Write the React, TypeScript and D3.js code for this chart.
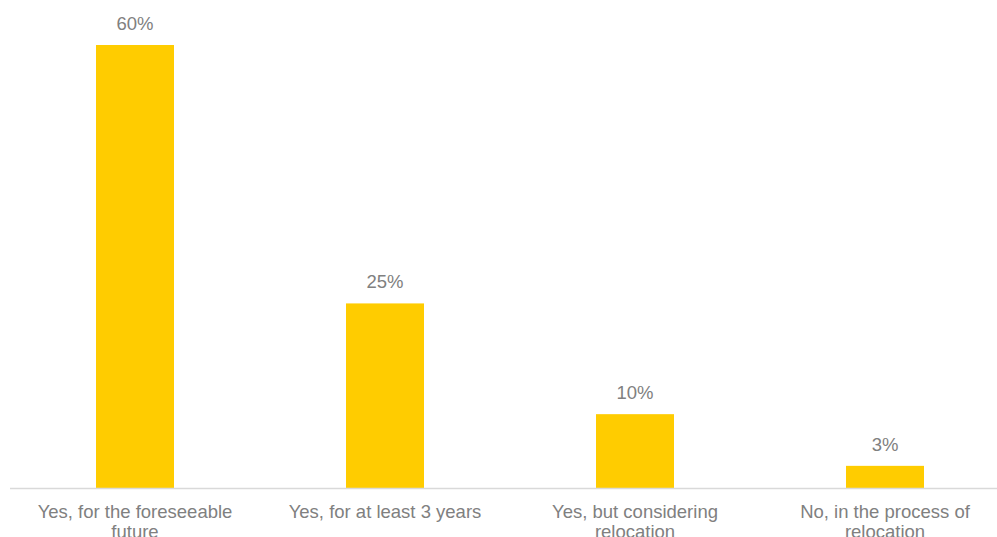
import React, { useEffect, useRef } from "react";
import * as d3 from "d3";

const categories = [
  "Yes, for the foreseeable future",
  "Yes, for at least 3 years",
  "Yes, but considering relocation",
  "No, in the process of relocation",
];
const values = [60, 25, 10, 3];

const W = 997;
const H = 537;

export default function App() {
  const ref = useRef<SVGSVGElement | null>(null);

  useEffect(() => {
    document.body.style.margin = "0";
    const svg = d3.select(ref.current);
    svg.selectAll("*").remove();

    const x = d3.scaleBand<string>().domain(categories).range([10, 1010]).paddingInner(0.688).paddingOuter(0.344);
    const y = d3.scaleLinear().domain([0, 60]).range([488, 45]);

    const font = "'Liberation Sans', Arial, sans-serif";
    const textColor = "#808080";
    const fs = 18.5;

    svg
      .selectAll("rect.bar")
      .data(values)
      .join("rect")
      .attr("class", "bar")
      .attr("x", (_, i) => x(categories[i])!)
      .attr("width", x.bandwidth())
      .attr("y", (d) => y(d))
      .attr("height", (d) => y(0) - y(d))
      .attr("fill", "#ffcc00");

    svg
      .append("line")
      .attr("x1", 10)
      .attr("x2", 1010)
      .attr("y1", 488.5)
      .attr("y2", 488.5)
      .attr("stroke", "#d9d9d9")
      .attr("stroke-width", 1.3);

    svg
      .selectAll("text.val")
      .data(values)
      .join("text")
      .attr("class", "val")
      .attr("x", (_, i) => x(categories[i])! + x.bandwidth() / 2)
      .attr("y", (d) => y(d) - 15)
      .attr("text-anchor", "middle")
      .attr("font-family", font)
      .attr("font-size", fs)
      .attr("fill", textColor)
      .text((d) => `${d}%`);

    const labels = svg
      .selectAll("text.cat")
      .data(categories)
      .join("text")
      .attr("class", "cat")
      .attr("x", (d) => x(d)! + x.bandwidth() / 2)
      .attr("y", 517.5)
      .attr("text-anchor", "middle")
      .attr("font-family", font)
      .attr("font-size", fs)
      .attr("fill", textColor);

    labels.each(function (d) {
      const t = d3.select(this);
      const cx = x(d)! + x.bandwidth() / 2;
      const words = d.split(" ");
      let line: string[] = [];
      let tspan = t.append("tspan").attr("x", cx).attr("dy", 0);
      for (const w of words) {
        line.push(w);
        tspan.text(line.join(" "));
        if ((tspan.node() as SVGTSpanElement).getComputedTextLength() > 215 && line.length > 1) {
          line.pop();
          tspan.text(line.join(" "));
          line = [w];
          tspan = t.append("tspan").attr("x", cx).attr("dy", 20.5).text(w);
        }
      }
    });
  }, []);

  return <svg ref={ref} width={W} height={H} style={{ display: "block" }} />;
}
